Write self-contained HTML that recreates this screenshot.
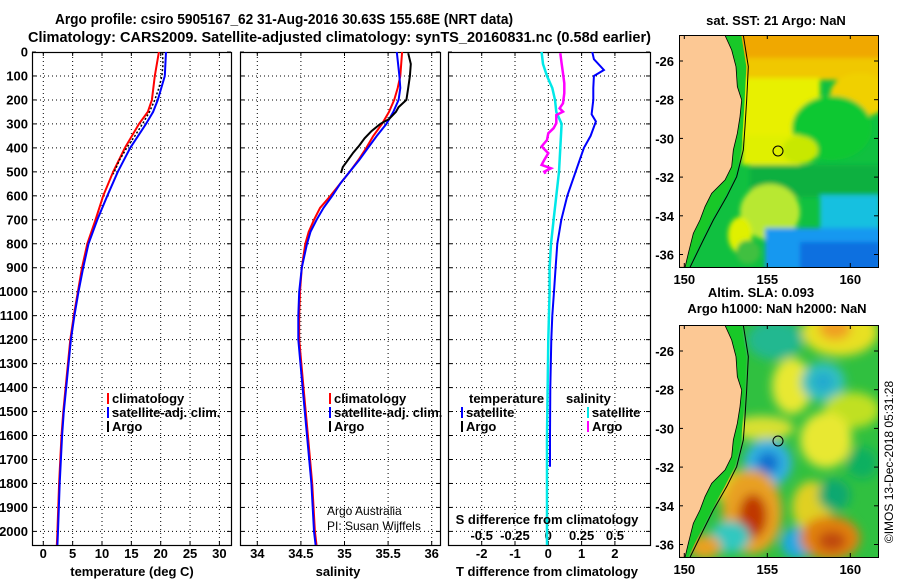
<!DOCTYPE html>
<html><head><meta charset="utf-8">
<style>
html,body{margin:0;padding:0;background:#fff;}
svg{display:block;font-family:"Liberation Sans",Arial,sans-serif;}
.b{font-weight:bold;font-size:13px;}
.t{font-weight:bold;font-size:14.3px;}
</style></head>
<body>
<svg id="fig" width="900" height="580" viewBox="0 0 900 580" xmlns="http://www.w3.org/2000/svg">
<defs>
<filter id="bl" x="-50%" y="-50%" width="200%" height="200%"><feGaussianBlur stdDeviation="5"/></filter>
<filter id="bl2" x="-50%" y="-50%" width="200%" height="200%"><feGaussianBlur stdDeviation="2.5"/></filter>
<clipPath id="cm1"><rect x="679" y="35" width="199" height="232"/></clipPath>
<clipPath id="cm2"><rect x="679" y="325" width="199" height="232"/></clipPath>
<clipPath id="cp1"><rect x="32" y="52" width="199" height="493"/></clipPath>
<clipPath id="cp2"><rect x="240" y="52" width="200" height="493"/></clipPath>
<clipPath id="cp3"><rect x="448" y="52" width="202" height="493"/></clipPath>
</defs>
<text class="t" x="55" y="24" textLength="458" lengthAdjust="spacingAndGlyphs">Argo profile: csiro 5905167_62 31-Aug-2016 30.63S 155.68E (NRT data)</text>
<text class="t" x="28" y="42" textLength="623" lengthAdjust="spacingAndGlyphs">Climatology: CARS2009. Satellite-adjusted climatology: synTS_20160831.nc (0.58d earlier)</text>
<g id="plots"></g>
<g id="maps"></g>
<text x="0" y="0" transform="translate(893,462) rotate(-90)" text-anchor="middle" style="font-size:12px">©IMOS 13-Dec-2018 05:31:28</text>
</svg>
<script>
// ---- data ----
const tDepth = [0,100,200,250,300,400,500,600,700,800,900,1000,1100,1200,1400,1500,1600,1800,2000,2060];
const tClim  = [19.7,19.0,18.5,17.8,16.3,13.9,11.9,10.2,8.9,7.5,6.6,5.9,5.2,4.6,3.8,3.4,3.1,2.7,2.4,2.3];
const tSat   = [20.9,20.7,19.5,18.7,17.5,14.8,12.7,10.9,9.2,7.7,6.8,6.0,5.3,4.7,3.9,3.5,3.2,2.8,2.5,2.4];
const argoDepth = [5,50,100,150,200,250,300,350,400,450,500,510];
const tArgo  = [20.3,20.4,20.2,19.7,19.0,18.1,16.9,15.6,14.2,13.0,12.1,11.9];
const sDepth = [0,100,150,200,250,300,350,400,450,500,550,600,650,700,750,800,850,900,1000,1100,1200,1400,1600,1800,2000,2060];
const sClim  = [35.66,35.64,35.61,35.57,35.51,35.43,35.33,35.25,35.16,35.06,34.95,34.84,34.72,34.65,34.59,34.55,34.53,34.51,34.49,34.48,34.48,34.53,34.58,34.63,34.66,34.68];
const sSat   = [35.60,35.63,35.64,35.62,35.56,35.48,35.37,35.27,35.17,35.06,34.95,34.86,34.76,34.68,34.61,34.57,34.54,34.51,34.48,34.47,34.47,34.52,34.57,34.62,34.65,34.67];
const sArgoDepth = [5,50,100,150,200,230,250,280,300,330,360,390,420,450,480,505];
const sArgo  = [35.73,35.76,35.75,35.73,35.71,35.62,35.59,35.51,35.41,35.31,35.23,35.17,35.10,35.04,34.98,34.96];
const dDepth = [0,30,75,100,150,200,260,290,350,400,500,600,700,800,900,1000,1100,1200,1400,1600,1730];
const tDiffSat = [1.32,1.37,1.67,1.37,1.35,1.35,1.30,1.43,1.27,1.07,0.82,0.57,0.39,0.27,0.22,0.17,0.12,0.09,0.06,0.05,0.05];
const sdDepth = [0,50,100,150,200,250,300,400,500,600,700,800,900,1000,1200,1600,2060];
const sDiffSat = [-0.05,-0.04,-0.01,0.03,0.05,0.06,0.10,0.09,0.08,0.06,0.04,0.02,0.01,0.01,0.0,-0.01,-0.01];
const sdArgoDepth = [5,47,89,130,172,214,235,249,263,297,318,339,367,394,422,450,471,485,499,508];
const sDiffArgo = [0.09,0.10,0.11,0.12,0.12,0.11,0.085,0.11,0.06,0.06,0.04,0.0,-0.01,-0.05,0.0,-0.03,-0.05,0.02,-0.03,-0.02];
const depthTicks = [0,100,200,300,400,500,600,700,800,900,1000,1100,1200,1300,1400,1500,1600,1700,1800,1900,2000];
const tTicks = [0,5,10,15,20,25,30];
const sTicks = [34,34.5,35,35.5,36];
const tdTicks = [-2,-1,0,1,2];
const sdTicks = [-0.5,-0.25,0,0.25,0.5];

// ---- scales ----
const yD = d => 52 + d*0.2397;
const xT = t => 43.3 + t*5.87;
const xS = s => 257.3 + (s-34)*87.2;
const xTD = v => 548.3 + v*33.3;
const xSD = v => 548.3 + v*133.3;

const NS='http://www.w3.org/2000/svg';
const plots=document.getElementById('plots');
function mk(tag,attrs,parent){const e=document.createElementNS(NS,tag);for(const k in attrs)e.setAttribute(k,attrs[k]);(parent||plots).appendChild(e);return e;}
function txt(x,y,s,attrs,parent){const e=mk('text',Object.assign({x:x,y:y},attrs||{}),parent);e.textContent=s;return e;}
function line(depths,vals,xf,color,w,clip,name,dash){
  const pts=depths.map((d,i)=>xf(vals[i]).toFixed(1)+','+yD(d).toFixed(1)).join(' ');
  const p=mk('polyline',{points:pts,fill:'none',stroke:color,'stroke-width':w,'clip-path':'url(#'+clip+')'});
  if(dash)p.setAttribute('stroke-dasharray',dash);
  
  
}
const panels=[{x:32,w:199,clip:'cp1',xticks:tTicks,xf:xT,name:'temperature'},{x:240,w:200,clip:'cp2',xticks:sTicks,xf:xS,name:'salinity'},{x:448,w:202,clip:'cp3',xticks:tdTicks,xf:xTD,name:'difference'}];
panels.forEach((p,pi)=>{
  const g=mk('g',{});
  
  
  depthTicks.forEach(d=>{
    if(d>0) mk('line',{x1:p.x,x2:p.x+p.w,y1:yD(d),y2:yD(d),stroke:'#000','stroke-width':1,'stroke-dasharray':'1,3'},g);
    mk('line',{x1:p.x,x2:p.x+4,y1:yD(d),y2:yD(d),stroke:'#000'},g);
    mk('line',{x1:p.x+p.w-4,x2:p.x+p.w,y1:yD(d),y2:yD(d),stroke:'#000'},g);
  });
  p.xticks.forEach(v=>{
    const x=p.xf(v);
    mk('line',{x1:x,x2:x,y1:53,y2:545,stroke:'#000','stroke-dasharray':'1,3'},g);
    mk('line',{x1:x,x2:x,y1:541,y2:545,stroke:'#000'},g);
    mk('line',{x1:x,x2:x,y1:52,y2:56,stroke:'#000'},g);
    const t=txt(x,558,String(v),{class:'b','text-anchor':'middle'},g);
    
    
  });
  mk('rect',{x:p.x+0.5,y:52.5,width:p.w,height:493,fill:'none',stroke:'#000','stroke-width':1.2},g);
});
depthTicks.forEach(d=>{
  const t=txt(28,yD(d)+4.5,String(d),{class:'b','text-anchor':'end'});
  
  
});
sdTicks.forEach(v=>{
  const t=txt(xSD(v),540,String(v),{class:'b','text-anchor':'middle'});
  
  
});
// series
line(tDepth,tClim,xT,'#f00',2,'cp1','temp-climatology-line');
line(tDepth,tSat,xT,'#00f',2,'cp1','temp-satellite-line');
line(argoDepth,tArgo,xT,'#000',1.5,'cp1','temp-argo-line','2,2');
line(sDepth,sClim,xS,'#f00',2,'cp2','sal-climatology-line');
line(sDepth,sSat,xS,'#00f',2,'cp2','sal-satellite-line');
line(sArgoDepth,sArgo,xS,'#000',2,'cp2','sal-argo-line');
line(sdDepth,sDiffSat,xSD,'#00e8e8',2.5,'cp3','sdiff-satellite-line');
line(dDepth,tDiffSat,xTD,'#00f',2,'cp3','tdiff-satellite-line');
line(sdArgoDepth,sDiffArgo,xSD,'#f0f',2.5,'cp3','sdiff-argo-line');
// axis titles
[[132,576,'temperature (deg C)','temp-x-axis-title'],[338,576,'salinity','sal-x-axis-title'],[547,576,'T difference from climatology','tdiff-x-axis-title'],[547,524,'S difference from climatology','sdiff-axis-title']].forEach(a=>{
  const t=txt(a[0],a[1],a[2],{class:'b','text-anchor':'middle'});
  
  
});
// legends
function leg(x,y,color,label,name){
  mk('rect',{x:x,y:y-10,width:2,height:11,fill:color});
  const t=txt(x+5,y,label,{class:'b'});
  
  
}
leg(107,403,'#f00','climatology','legend-climatology');
leg(107,417,'#00f','satellite-adj. clim.','legend-satellite');
leg(107,431,'#000','Argo','legend-argo');
leg(329,403,'#f00','climatology','legend2-climatology');
leg(329,417,'#00f','satellite-adj. clim.','legend2-satellite');
leg(329,431,'#000','Argo','legend2-argo');
txt(469,403,'temperature',{class:'b'});
leg(461,417,'#00f','satellite','legend3-t-satellite');
leg(461,431,'#000','Argo','legend3-t-argo');
txt(566,403,'salinity',{class:'b'});
leg(587,417,'#00e8e8','satellite','legend3-s-satellite');
leg(587,431,'#f0f','Argo','legend3-s-argo');
txt(327,515,'Argo Australia',{style:'font-size:12px'});
txt(327,530,'PI: Susan Wijffels',{style:'font-size:12px'});

// ---- maps ----
const maps=document.getElementById('maps');
const zx=v=>650+v/3;
const coast=[[225,106],[245,150],[258,200],[262,260],[275,300],[270,350],[262,400],[250,450],[245,500],[225,540],[185,580],[165,620],[150,660],[130,700],[115,760],[105,802]];
const iso=[[280,106],[295,200],[290,300],[285,380],[280,450],[260,530],[230,590],[190,660],[160,720],[120,802]];
function drawMap(oy,clip,blobs,title,tnames){
  const g=mk('g',{},maps);
  
  
  const c=mk('g',{'clip-path':'url(#'+clip+')'},g);
  mk('rect',{x:679,y:oy+35,width:199,height:232,fill:blobs.base},c);
  const bg=mk('g',{filter:'url(#'+blobs.blur+')'},c);
  blobs.items.forEach(b=>{
    if(b[0]==='r') mk('rect',{x:b[1],y:oy+b[2],width:b[3],height:b[4],fill:b[5]},bg);
    else mk('ellipse',{cx:b[0],cy:oy+b[1],rx:b[2],ry:b[3],fill:b[4]},bg);
  });
  const shelf=coast.map(p=>zx(p[0])+','+(oy+p[1]/3)).concat(iso.slice().reverse().map(p=>zx(p[0]-6)+','+(oy+p[1]/3))).join(' ');
  mk('polygon',{points:shelf,fill:'#18c828'},c);
  const land=[[0,106]].concat(coast).concat([[0,802]]).map(p=>zx(p[0])+','+(oy+p[1]/3)).join(' ');
  const l=mk('polygon',{points:land,fill:'#fcc894',stroke:'#000','stroke-width':0.8},c);
  
  
  mk('polyline',{points:iso.map(p=>zx(p[0])+','+(oy+p[1]/3)).join(' '),fill:'none',stroke:'#000','stroke-width':1},c);
  const circ=mk('circle',{cx:778,cy:oy+151,r:5,fill:'none',stroke:'#000','stroke-width':1},g);
  
  
  mk('rect',{x:679.5,y:oy+35.5,width:199,height:232,fill:'none',stroke:'#000'},g);
  const lats=[-26,-28,-30,-32,-34,-36];
  lats.forEach((la,i)=>{
    const y=oy+61+i*2*19.35;
    mk('line',{x1:679,x2:683,y1:y,y2:y,stroke:'#000'},g);
    mk('line',{x1:874,x2:878,y1:y,y2:y,stroke:'#000'},g);
    const t=txt(674,y+5,String(la),{class:'b','text-anchor':'end'},g);
    
    
  });
  [150,155,160].forEach((lo,i)=>{
    const x=684.3+i*83;
    mk('line',{x1:x,x2:x,y1:oy+263,y2:oy+267,stroke:'#000'},g);
    mk('line',{x1:x,x2:x,y1:oy+35,y2:oy+39,stroke:'#000'},g);
    const t=txt(x,oy+284,String(lo),{class:'b','text-anchor':'middle'},g);
    
    
  });
  title.forEach((s,i)=>{
    const t=txt(s[1],oy+s[2],s[0],{class:'b','text-anchor':'middle'},g);
    
    
  });
}
drawMap(0,'cm1',{base:'#10c040',blur:'bl2',items:[
  ['r',735,30,150,32,'#f0a800'],
  ['r',735,58,150,22,'#f0c800'],
  ['r',740,78,80,62,'#e8f000'],
  [860,95,30,22,'#f0d000'],
  [832,128,40,32,'#10c830'],
  ['r',742,135,58,30,'#e0f000'],
  [800,150,18,14,'#c8e800'],
  ['r',750,165,130,32,'#10b040'],
  [770,212,30,28,'#b8e830'],
  [740,235,12,18,'#e0f000'],
  ['r',820,195,60,40,'#18c0e0'],
  ['r',765,228,120,42,'#1898f0'],
  ['r',800,242,80,30,'#1070e0'],
  [748,252,12,12,'#40c040']
]},[['sat. SST: 21 Argo: NaN',776,25]],['sst-map','sst-map-title']);
drawMap(290,'cm2',{base:'#30c040',blur:'bl',items:[
  [840,42,38,24,'#e8e020'],[835,38,16,12,'#f0a020'],
  [775,50,28,20,'#20b890'],
  [792,96,20,28,'#e8e830'],
  [823,92,22,20,'#30c0c0'],[823,92,10,9,'#20a8d0'],
  [852,120,28,18,'#c0e020'],
  [826,150,26,28,'#e8e830'],
  [762,138,32,12,'#d8e030'],
  [768,173,24,24,'#30b0e0'],[768,173,11,11,'#1070d0'],
  [745,200,30,20,'#e0d020'],
  [752,222,30,42,'#e8a020'],[753,226,14,22,'#c03800'],
  [730,247,20,16,'#30c8c0'],
  [797,253,16,16,'#20a8e0'],
  [812,217,20,26,'#e0d020'],
  [830,248,30,22,'#e08010'],[832,251,14,10,'#c04810'],
  [705,257,16,12,'#e8a020'],
  [834,205,16,16,'#10a870'],
  [862,173,16,16,'#10b060']
]},[['Altim. SLA: 0.093',761,7],['Argo h1000: NaN h2000: NaN',777,23]],['sla-map','sla-map-title']);
</script>
</body></html>
